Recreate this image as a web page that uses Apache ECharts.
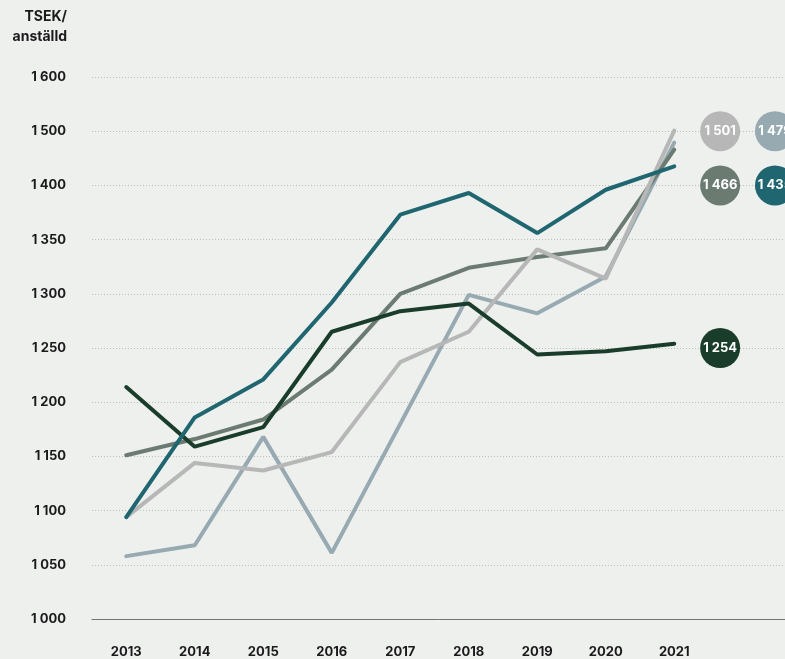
<!DOCTYPE html>
<html>
<head>
<meta charset="utf-8">
<script src="https://cdn.jsdelivr.net/npm/echarts@6/dist/echarts.min.js"></script>
<style>
html,body{margin:0;padding:0;background:#eef0ee;}
#c{width:785px;height:659px;}
</style>
</head>
<body>
<div id="c"></div>
<script>
// ---- data ----
var years = ['2013','2014','2015','2016','2017','2018','2019','2020','2021'];
var darkGreen = [1214, 1159, 1177, 1265, 1284, 1291, 1244, 1247, 1254];
var teal      = [1094, 1186, 1221, 1292, 1373, 1393, 1356, 1396, 1435];
var grayGreen = [1151, 1166, 1184, 1230, 1300, 1324, 1334, 1342, 1466];
var lightGray = [1094, 1144, 1137, 1154, 1237, 1265, 1341, 1314, 1501];
var blueGray  = [1058, 1068, 1168, 1061, 1180, 1299, 1282, 1316, 1479];
var yTickValues = [1000, 1050, 1100, 1150, 1200, 1250, 1300, 1350, 1400, 1500, 1600];
var axisTitle = 'TSEK/\nanställd';

// ---- scale: values above 1400 are drawn at half scale ----
function toDisp(v){ return v <= 1400 ? v : 1400 + (v - 1400) / 2; }
function fromDisp(d){ return d <= 1400 ? d : 1400 + (d - 1400) * 2; }
function fmt(v){ v = Math.round(v); var s = String(v); return s.length > 3 ? s.slice(0, s.length-3) + ' ' + s.slice(-3) : s; }

var FONT = 'Inter, "Open Sans", sans-serif';
var colors = {
  darkGreen: '#1a3d2b',
  teal: '#1f6670',
  grayGreen: '#6b7b72',
  lightGray: '#b6b7b6',
  blueGray: '#97aab2'
};

function lineSeries(name, arr, color, z){
  return {
    name: name, type: 'line', xAxisIndex: 0, yAxisIndex: 0,
    data: arr.map(toDisp), symbol: 'none', z: z,
    lineStyle: { color: color, width: 4, cap: 'round' },
    emphasis: { disabled: true }
  };
}

// badge layout: column index (on the hidden helper axis) and grid row value
var badges = [
  { series: lightGray, color: colors.lightGray, col: 8.67, row: 1500 },
  { series: blueGray,  color: colors.blueGray,  col: 9.47, row: 1500 },
  { series: grayGreen, color: colors.grayGreen, col: 8.67, row: 1400 },
  { series: teal,      color: colors.teal,      col: 9.47, row: 1400 },
  { series: darkGreen, color: colors.darkGreen, col: 8.67, row: 1250 }
];

var option = {
  backgroundColor: '#eef0ee',
  animation: false,
  grid: { left: 92, top: 77, height: 542, width: 753.5, containLabel: false, outerBoundsMode: 'none' },
  graphic: [{
    type: 'text', x: 67, y: 7,
    style: { text: axisTitle, textAlign: 'right', fill: '#1a1a1a', font: 'bold 14px ' + FONT, lineHeight: 20 }
  }],
  xAxis: [{
    type: 'category', data: years.concat(['', '']), boundaryGap: true,
    axisLine: { show: true, lineStyle: { color: '#6f7873', width: 1 } },
    axisTick: { show: false },
    axisLabel: { margin: 27, color: '#1a1a1a', fontFamily: FONT, fontWeight: 'bold', fontSize: 13 },
    splitLine: { show: false }
  }, {
    type: 'value', min: -0.5, max: 10.5, show: false
  }],
  yAxis: {
    type: 'value', min: 1000, max: 1500, interval: 50,
    axisLine: { show: false }, axisTick: { show: false },
    axisLabel: {
      margin: 26, color: '#1a1a1a', fontFamily: FONT, fontWeight: 'bold', fontSize: 13,
      formatter: function(d){ var v = fromDisp(d); return yTickValues.indexOf(Math.round(v)) >= 0 ? fmt(v) : ''; }
    },
    splitLine: { show: true, lineStyle: { color: '#bdbfbd', width: 1, type: [1, 2] } }
  },
  series: [
    lineSeries('blueGray', blueGray, colors.blueGray, 2),
    lineSeries('grayGreen', grayGreen, colors.grayGreen, 3),
    lineSeries('lightGray', lightGray, colors.lightGray, 4),
    lineSeries('darkGreen', darkGreen, colors.darkGreen, 5),
    lineSeries('teal', teal, colors.teal, 6),
    {
      type: 'scatter', xAxisIndex: 1, yAxisIndex: 0, z: 10, symbolSize: 40,
      data: badges.map(function(b){
        return {
          value: [b.col, toDisp(b.row)],
          itemStyle: { color: b.color, opacity: 1 },
          label: { formatter: fmt(b.series[b.series.length - 1]) }
        };
      }),
      label: { show: true, position: 'inside', color: '#ffffff', fontFamily: FONT, fontWeight: 'bold', fontSize: 13 },
      emphasis: { disabled: true }
    }
  ]
};

var chart = echarts.init(document.getElementById('c'), null, { renderer: 'canvas' });
chart.setOption(option);
</script>
</body>
</html>
